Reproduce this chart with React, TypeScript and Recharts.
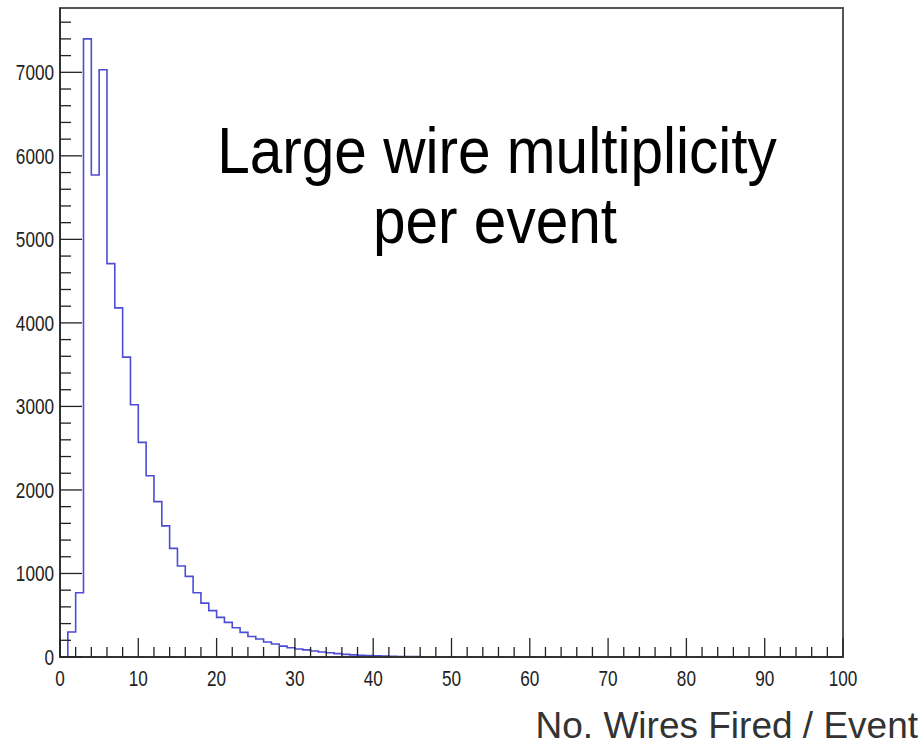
import { LineChart, Line, XAxis, YAxis, ReferenceArea } from "recharts"

// counts per bin (bin i covers [i, i+1))
const counts = [
  0, 300, 770, 7400, 5770, 7030, 4710, 4180, 3590, 3020,
  2570, 2170, 1860, 1570, 1300, 1090, 965, 770, 645, 555,
  475, 415, 350, 295, 245, 215, 180, 155, 130, 110,
  95, 85, 72, 60, 50, 40, 32, 26, 20, 16,
  13, 10, 8, 6, 5, 4, 3, 3, 2, 2,
  1, 1, 1, 0, 0, 0, 0, 0, 0, 0,
  0, 0, 0, 0, 0, 0, 0, 0, 0, 0,
  0, 0, 0, 0, 0, 0, 0, 0, 0, 0,
  0, 0, 0, 0, 0, 0, 0, 0, 0, 0,
  0, 0, 0, 0, 0, 0, 0, 0, 0, 0,
]

const xTicks = [
  0, 2, 4, 6, 8, 10, 12, 14, 16, 18, 20, 22, 24, 26, 28, 30, 32, 34, 36, 38, 40,
  42, 44, 46, 48, 50, 52, 54, 56, 58, 60, 62, 64, 66, 68, 70, 72, 74, 76, 78, 80,
  82, 84, 86, 88, 90, 92, 94, 96, 98, 100,
]
const yTicks = [
  0, 200, 400, 600, 800, 1000, 1200, 1400, 1600, 1800, 2000, 2200, 2400, 2600, 2800,
  3000, 3200, 3400, 3600, 3800, 4000, 4200, 4400, 4600, 4800, 5000, 5200, 5400, 5600,
  5800, 6000, 6200, 6400, 6600, 6800, 7000, 7200, 7400, 7600,
]
const Y_MAX = 7770

// lower edge of each bin, plus the closing edge at 100
const data = counts.map((c, i) => ({ x: i, n: c })).concat([{ x: 100, n: 0 }])

const tickFont = "'Liberation Sans', Arial, sans-serif"

const XTick = (props: any) => {
  const { x, y, payload } = props
  const major = payload.value % 10 === 0
  return (
    <g>
      <line x1={x} x2={x} y1={y} y2={y - (major ? 19 : 10)} stroke="#222" strokeWidth={1.3} />
      {major && (
        <text
          transform={`translate(${x},${y + 29}) scale(0.78,1)`}
          textAnchor="middle"
          fontSize={22}
          fontFamily={tickFont}
          fill="#222"
        >
          {payload.value}
        </text>
      )}
    </g>
  )
}

const YTick = (props: any) => {
  const { x, y, payload } = props
  const major = payload.value % 1000 === 0
  return (
    <g>
      <line x1={x} x2={x + (major ? 22 : 11)} y1={y} y2={y} stroke="#222" strokeWidth={1.3} />
      {major && (
        <text
          transform={`translate(${x - 6},${y + 8}) scale(0.78,1)`}
          textAnchor="end"
          fontSize={22}
          fontFamily={tickFont}
          fill="#222"
        >
          {payload.value}
        </text>
      )}
    </g>
  )
}

export default function App() {
  return (
    <div style={{ position: "absolute", left: 0, top: 0, width: 924, height: 754, background: "#fff" }}>
      <LineChart width={924} height={754} data={data} margin={{ top: 8, right: 81, bottom: 0, left: 0 }}>
        <XAxis
          dataKey="x"
          type="number"
          domain={[0, 100]}
          ticks={xTicks}
          interval={0}
          height={97}
          tickSize={0}
          tickMargin={0}
          tickLine={false}
          axisLine={{ stroke: "#333", strokeWidth: 2 }}
          tick={(p: any) => <XTick {...p} />}
        />
        <YAxis
          type="number"
          domain={[0, Y_MAX]}
          ticks={yTicks}
          interval={0}
          width={60}
          tickSize={0}
          tickMargin={0}
          tickLine={false}
          axisLine={{ stroke: "#333", strokeWidth: 2 }}
          tick={(p: any) => <YTick {...p} />}
        />
        <ReferenceArea x1={0} x2={100} y1={0} y2={Y_MAX} fill="none" stroke="#555" strokeWidth={2} fillOpacity={0} />
        <Line
          dataKey="n"
          type="stepAfter"
          stroke="#4c4cd6"
          strokeWidth={1.6}
          dot={false}
          isAnimationActive={false}
        />
      </LineChart>
      <svg width={924} height={754} style={{ position: "absolute", left: 0, top: 0, pointerEvents: "none" }}>
        <g fontFamily="'Liberation Sans', Arial, sans-serif" fill="#000" fontSize={64}>
          <text transform="translate(497,173) scale(0.915,1)" textAnchor="middle">Large wire multiplicity</text>
          <text transform="translate(495,243) scale(0.915,1)" textAnchor="middle">per event</text>
        </g>
        <text x={918} y={738} textAnchor="end" fontSize={37} fontFamily="'Liberation Sans', Arial, sans-serif" fill="#333">
          No. Wires Fired / Event
        </text>
      </svg>
    </div>
  )
}
